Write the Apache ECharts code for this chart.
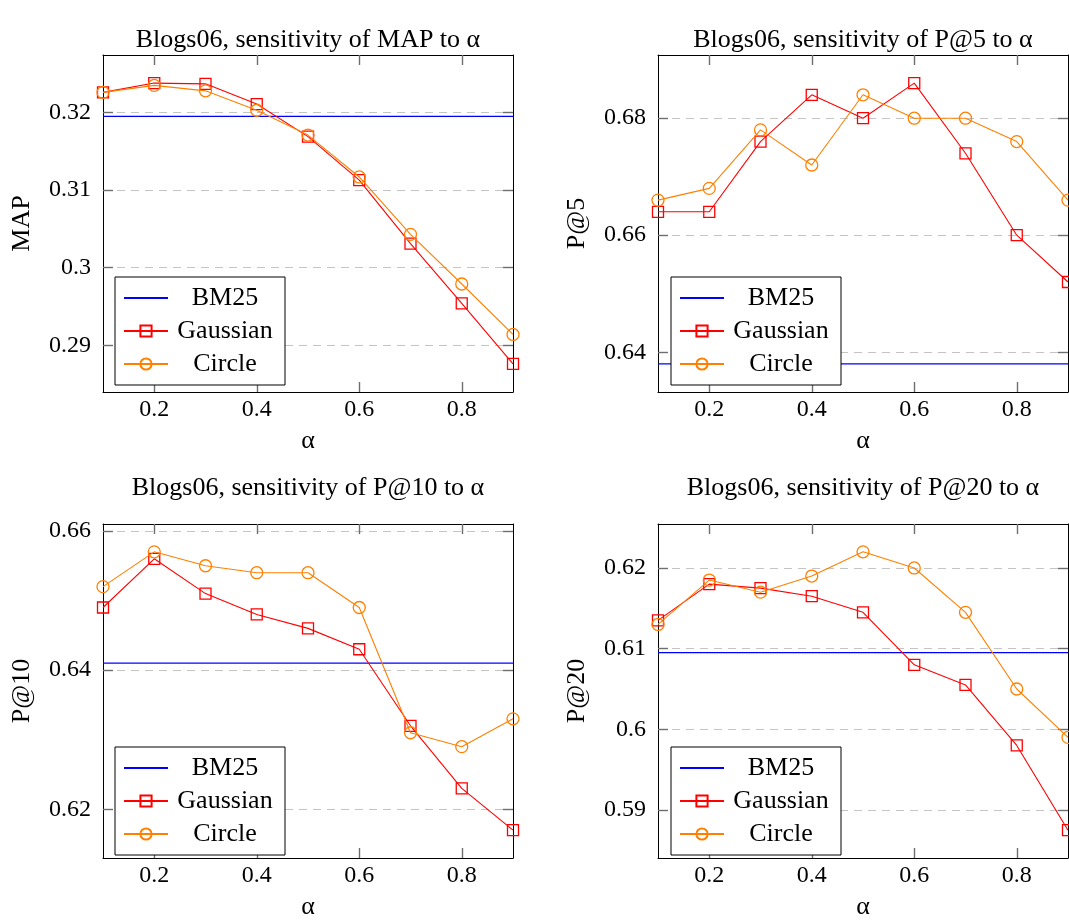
<!DOCTYPE html>
<html><head><meta charset="utf-8">
<script src="https://cdn.jsdelivr.net/npm/echarts@6/dist/echarts.min.js"></script>
<style>html,body{margin:0;padding:0;background:#fff}#c{width:1069px;height:921px}</style>
</head><body><div id="c"></div>
<script>
// ---------- data ----------
const alpha = [0.1, 0.2, 0.3, 0.4, 0.5, 0.6, 0.7, 0.8, 0.9];
const xTicks = [0.2, 0.4, 0.6, 0.8];
const seriesNames = ['BM25', 'Gaussian', 'Circle'];
const titles = [
  'Blogs06, sensitivity of MAP to α',
  'Blogs06, sensitivity of P@5 to α',
  'Blogs06, sensitivity of P@10 to α',
  'Blogs06, sensitivity of P@20 to α'
];
const yNames = ['MAP', 'P@5', 'P@10', 'P@20'];
const xName = 'α';

const bm25 = [0.3195, 0.638, 0.641, 0.6095];

const gaussMAP = [0.3226, 0.3238, 0.3237, 0.3211, 0.3169, 0.3113, 0.3031, 0.2954, 0.2876];
const circleMAP = [0.3226, 0.3235, 0.3228, 0.3203, 0.3171, 0.3117, 0.3043, 0.2979, 0.2914];

const gaussP5 = [0.664, 0.664, 0.676, 0.684, 0.680, 0.686, 0.674, 0.660, 0.652];
const circleP5 = [0.666, 0.668, 0.678, 0.672, 0.684, 0.680, 0.680, 0.676, 0.666];

const gaussP10 = [0.649, 0.656, 0.651, 0.648, 0.646, 0.643, 0.632, 0.623, 0.617];
const circleP10 = [0.652, 0.657, 0.655, 0.654, 0.654, 0.649, 0.631, 0.629, 0.633];

const gaussP20 = [0.6135, 0.618, 0.6175, 0.6165, 0.6145, 0.608, 0.6055, 0.598, 0.5875];
const circleP20 = [0.613, 0.6185, 0.617, 0.619, 0.622, 0.620, 0.6145, 0.605, 0.599];

const yTicksMAP = [0.29, 0.30, 0.31, 0.32];
const yTicksP5 = [0.64, 0.66, 0.68];
const yTicksP10 = [0.62, 0.64, 0.66];
const yTicksP20 = [0.59, 0.60, 0.61, 0.62];

// ---------- layout / style ----------
const gaussians = [gaussMAP, gaussP5, gaussP10, gaussP20];
const circles = [circleMAP, circleP5, circleP10, circleP20];
const yTicks = [yTicksMAP, yTicksP5, yTicksP10, yTicksP20];

const FONT = 'Liberation Serif';
const grids = [
  {left: 103, top: 55, width: 410, height: 337},
  {left: 658, top: 55, width: 410, height: 337},
  {left: 103, top: 524, width: 410, height: 339},
  {left: 658, top: 524, width: 410, height: 339}
];
const titleY = [40, 40, 488, 488];
const legendPos = [
  {left: 115, top: 277}, {left: 671, top: 277},
  {left: 115, top: 747}, {left: 671, top: 747}
];

function fmt(v) { return String(+(+v).toFixed(4)); }

function range(i) {
  const all = gaussians[i].concat(circles[i], [bm25[i]]);
  const lo = Math.min.apply(null, all), hi = Math.max.apply(null, all);
  const pad = (hi - lo) * 0.1;
  return [lo - pad, hi + pad];
}

const xAxes = [], yAxes = [], series = [], legends = [], graphics = [];
const tickStyle = {color: '#6e6e6e', width: 1.4};
const frameStyle = {color: '#000', width: 1};

for (let i = 0; i < 4; i++) {
  const [ymin, ymax] = range(i);
  xAxes.push({
    gridIndex: i, type: 'value', min: 0.1, max: 0.9, position: 'bottom',
    axisLine: {show: true, onZero: false, lineStyle: frameStyle},
    axisTick: {show: true, inside: true, length: 10, customValues: xTicks, lineStyle: tickStyle},
    axisLabel: {show: true, customValues: xTicks, formatter: fmt, margin: 6,
      fontFamily: FONT, fontSize: 24, color: '#000'},
    splitLine: {show: false},
    name: xName, nameLocation: 'middle', nameGap: 36,
    nameTextStyle: {fontFamily: FONT, fontSize: 26, color: '#000'}
  });
  xAxes.push({
    gridIndex: i, type: 'value', min: 0.1, max: 0.9, position: 'top',
    axisLine: {show: true, onZero: false, lineStyle: frameStyle},
    axisTick: {show: true, inside: true, length: 10, customValues: xTicks, lineStyle: tickStyle},
    axisLabel: {show: false}, splitLine: {show: false}
  });
  yAxes.push({
    gridIndex: i, type: 'value', min: ymin, max: ymax, position: 'left',
    axisLine: {show: true, onZero: false, lineStyle: frameStyle},
    axisTick: {show: true, inside: true, length: 10, customValues: yTicks[i], lineStyle: tickStyle},
    axisLabel: {show: true, customValues: yTicks[i], formatter: fmt, margin: 12,
      fontFamily: FONT, fontSize: 24, color: '#000'},
    splitLine: {show: true, lineStyle: {color: '#c4c4c4', width: 1.2, type: [8, 6]}},
    name: yNames[i], nameLocation: 'middle', nameGap: 68,
    nameTextStyle: {fontFamily: FONT, fontSize: 26, color: '#000'}
  });
  yAxes.push({
    gridIndex: i, type: 'value', min: ymin, max: ymax, position: 'right',
    axisLine: {show: true, onZero: false, lineStyle: frameStyle},
    axisTick: {show: true, inside: true, length: 10, customValues: yTicks[i], lineStyle: tickStyle},
    axisLabel: {show: false}, splitLine: {show: false}
  });

  const xi = i * 2, yi = i * 2;
  series.push({
    name: seriesNames[0], type: 'line', xAxisIndex: xi, yAxisIndex: yi,
    data: [[alpha[0], bm25[i]], [alpha[alpha.length - 1], bm25[i]]],
    showSymbol: false, symbol: 'none', color: '#0000ff',
    lineStyle: {color: '#0000ff', width: 1.3}, z: 3
  });
  series.push({
    name: seriesNames[1], type: 'line', xAxisIndex: xi, yAxisIndex: yi,
    data: alpha.map((a, k) => [a, gaussians[i][k]]),
    symbol: 'rect', symbolSize: 11, color: '#ff0000',
    lineStyle: {color: '#ff0000', width: 1.1},
    itemStyle: {color: 'rgba(255,255,255,0)', borderColor: '#ff0000', borderWidth: 1.3},
    clip: false, z: 4
  });
  series.push({
    name: seriesNames[2], type: 'line', xAxisIndex: xi, yAxisIndex: yi,
    data: alpha.map((a, k) => [a, circles[i][k]]),
    symbol: 'circle', symbolSize: 12, color: '#ff8000',
    lineStyle: {color: '#ff8000', width: 1.1},
    itemStyle: {color: 'rgba(255,255,255,0)', borderColor: '#ff8000', borderWidth: 1.3},
    clip: false, z: 5
  });

  legends.push({
    data: [
      {name: seriesNames[0], itemStyle: {opacity: 0, borderWidth: 0}},
      {name: seriesNames[1]},
      {name: seriesNames[2]}
    ],
    orient: 'vertical',
    left: legendPos[i].left, top: legendPos[i].top,
    itemWidth: 44, itemHeight: 14, itemGap: 7,
    padding: [8, 8, 8, 8],
    borderColor: '#000', borderWidth: 1, backgroundColor: '#fff',
    selectedMode: false,
    formatter: n => '{c|' + n + '}',
    textStyle: {fontFamily: FONT, fontSize: 26, color: '#000',
      rich: {c: {width: 104, align: 'center', fontFamily: FONT, fontSize: 26, color: '#000', lineHeight: 24}}}
  });

  graphics.push({
    type: 'text', x: grids[i].left + grids[i].width / 2, y: titleY[i],
    style: {text: titles[i], align: 'center', verticalAlign: 'middle',
      font: '26px "' + FONT + '"', fill: '#000'}
  });
}

const chart = echarts.init(document.getElementById('c'), null, {renderer: 'canvas'});
chart.setOption({
  animation: false,
  backgroundColor: '#fff',
  grid: grids,
  xAxis: xAxes,
  yAxis: yAxes,
  series: series,
  legend: legends,
  graphic: graphics
});
</script>
</body></html>
